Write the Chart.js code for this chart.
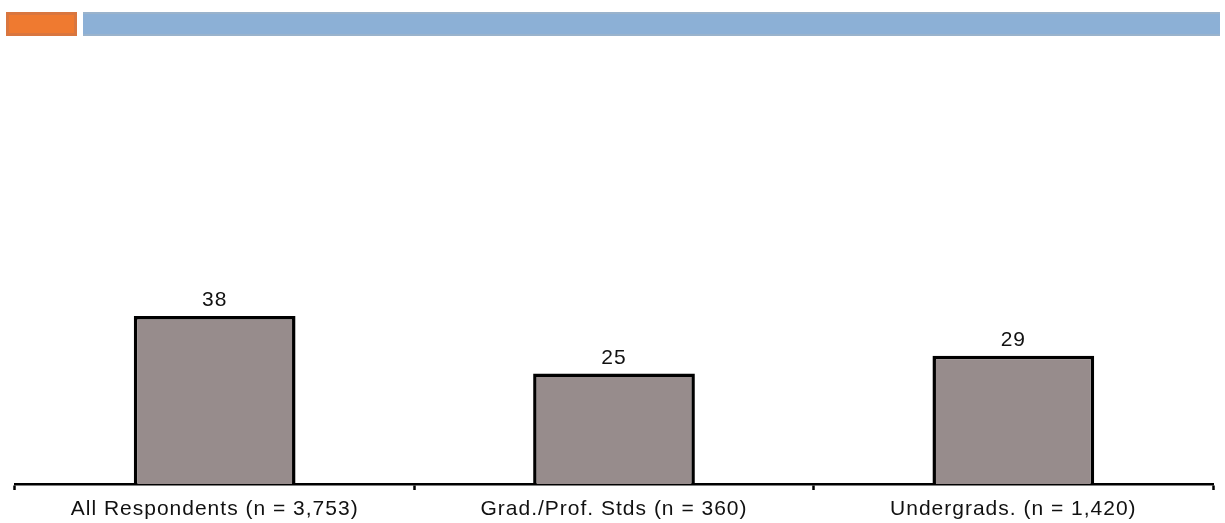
<!DOCTYPE html>
<html>
<head>
<meta charset="utf-8">
<script src="https://cdn.jsdelivr.net/npm/chart.js@4/dist/chart.umd.min.js"></script>
<style>
  html, body { margin: 0; padding: 0; background: #ffffff; }
  #wrap { position: relative; width: 1225px; height: 523px; }
  #accent { position: absolute; left: 6px; top: 12px; width: 71px; height: 24px; background: #ef7a30; box-shadow: inset 0 0 0 3px #d9763f; }
  #band { position: absolute; left: 83px; top: 12px; width: 1137px; height: 24px; background: #8cb0d6; box-shadow: inset 0 2px 0 #9ab3cc, inset 0 -2px 0 #9ab3cc; }
  canvas { position: absolute; left: 0; top: 0; }
</style>
</head>
<body>
<div id="wrap">
  <canvas id="c" width="1225" height="523"></canvas>
  <div id="accent"></div>
  <div id="band"></div>
</div>
<script>
// Survey groups and their percentages
const categories = ['All Respondents (n = 3,753)', 'Grad./Prof. Stds (n = 360)', 'Undergrads. (n = 1,420)'];
const values = [38, 25, 29];

const FONT = '"Liberation Sans", Arial, sans-serif';

// Slightly wider letter spacing for all chart text
const spacing = {
  id: 'spacing',
  beforeDraw(chart) { chart.ctx.letterSpacing = '1px'; }
};

// Writes each bar's value just above it
const valueLabels = {
  id: 'valueLabels',
  afterDatasetsDraw(chart) {
    const ctx = chart.ctx;
    const meta = chart.getDatasetMeta(0);
    ctx.save();
    ctx.font = '21px ' + FONT;
    ctx.letterSpacing = '1px';
    ctx.fillStyle = '#111111';
    ctx.textAlign = 'center';
    ctx.textBaseline = 'bottom';
    meta.data.forEach((bar, i) => {
      ctx.fillText(String(values[i]), bar.x, bar.y - 5);
    });
    ctx.restore();
  }
};

new Chart(document.getElementById('c'), {
  type: 'bar',
  data: {
    labels: categories,
    datasets: [{
      data: values,
      backgroundColor: '#978c8c',
      borderColor: '#000000',
      borderWidth: 3.5,
      borderSkipped: 'bottom',
      categoryPercentage: 0.405,
      barPercentage: 1.0
    }]
  },
  options: {
    responsive: false,
    animation: false,
    devicePixelRatio: 1,
    layout: { padding: { top: 42, left: 15, right: 12, bottom: 0 } },
    plugins: { legend: { display: false }, tooltip: { enabled: false } },
    scales: {
      y: {
        display: false,
        min: 0,
        max: 100
      },
      x: {
        offset: true,
        border: { display: true, color: '#000000', width: 2.5 },
        grid: {
          display: true,
          offset: true,
          drawOnChartArea: false,
          drawTicks: true,
          tickLength: 6,
          tickWidth: 2.5,
          tickColor: '#000000'
        },
        ticks: {
          color: '#111111',
          font: { family: FONT, size: 21 },
          padding: 7,
          maxRotation: 0,
          autoSkip: false
        },
        afterFit(scale) { scale.height = 39; }
      }
    }
  },
  plugins: [spacing, valueLabels]
});
</script>
</body>
</html>
